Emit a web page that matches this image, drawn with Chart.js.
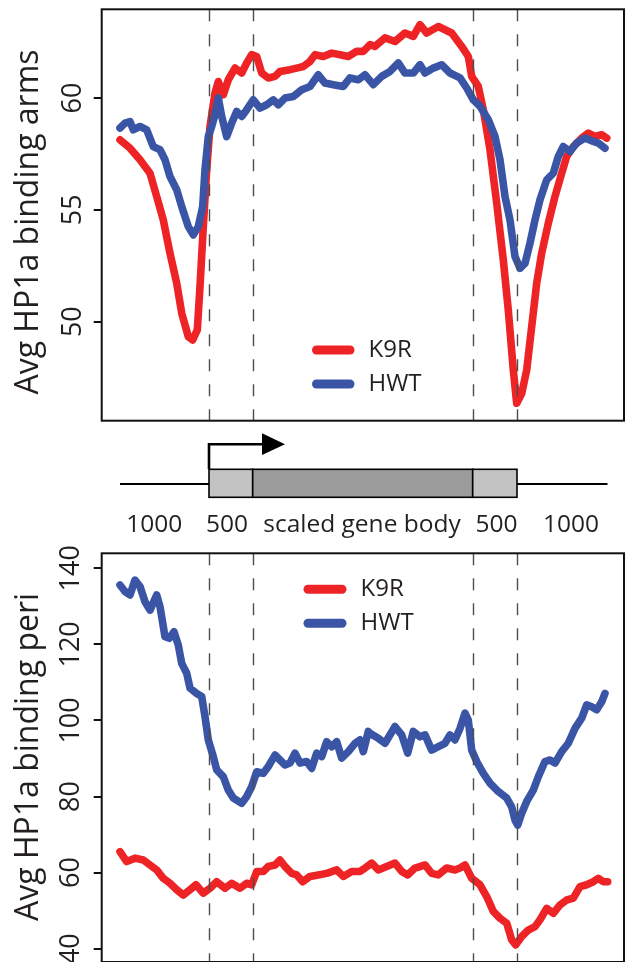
<!DOCTYPE html>
<html><head><meta charset="utf-8">
<script src="https://cdn.jsdelivr.net/npm/chart.js@4.4.1/dist/chart.umd.min.js"></script>
<style>
html,body{margin:0;padding:0;background:#fff;}
#wrap{position:relative;width:625px;height:962px;overflow:hidden;background:#fff;}
canvas{position:absolute;left:0;}
#c1{top:0;} #c2{top:540px;}
</style></head><body>
<div id="wrap">
<canvas id="c1" width="625" height="540"></canvas>
<canvas id="c2" width="625" height="422"></canvas>
</div>
<script>
// ---------- DATA ----------
const seriesNames = ['K9R', 'HWT'];
// profile position in bins (upstream 1000 | 500 | scaled gene body | 500 | 1000 downstream)
const regionBounds = [0, 89, 132.7, 352.7, 397, 487.5];
const regionLabels = ['1000', '500', 'scaled gene body', '500', '1000'];

const armsTicks = [50, 55, 60];
const periTicks = [40, 60, 80, 100, 120, 140];

const armsK9R_x = [0,10,20,30,36.7,43.3,50,56.7,61.7,68.3,72.7,77.3,80,83.3,86.7,90,95,98.3,103.3,108.3,115,121.7,126.7,131.7,136.7,141.7,148.3,155,160,170,176.7,183.3,190,195,203.3,211.7,220,228.3,236.7,243.3,250,255,265,275,285,293.3,300,306.7,318.3,331.7,341.7,348.3,351.7,358.3,363.3,370,376.7,383.3,388.3,393.3,396.7,401.7,406.7,411.7,416.7,421.7,428.3,435,441.7,446.7,453.3,461.7,468.3,475,481.7,486.7];
const armsK9R_y = [58.13,57.76,57.24,56.64,55.6,54.55,53.06,51.72,50.38,49.33,49.18,49.63,51.57,54.25,56.79,58.73,60.22,60.74,60.15,60.82,61.34,61.12,61.57,61.94,61.86,61.12,60.9,60.97,61.19,61.27,61.34,61.41,61.64,61.94,61.86,62.01,61.94,61.86,62.09,62.09,62.39,62.31,62.69,62.53,62.91,62.76,63.28,62.91,63.2,62.91,62.31,61.86,60.97,60.52,59.48,57.69,55.3,52.76,50.52,47.84,46.35,46.79,47.84,49.78,51.72,53.06,54.4,55.6,56.64,57.39,57.83,58.21,58.43,58.28,58.36,58.21];

const armsHWT_x = [0,5,10,13.3,20,26.7,33.3,40,45,50,56.7,61.7,68.3,73.3,78.3,82.7,85,88.3,91.7,95,98.3,101.7,106.7,111.7,116.7,121.7,126.7,133.3,140,146.7,153.3,158.3,165,173.3,181.7,190,198.3,205,213.3,223.3,230,238.3,245,253.3,261.7,270,278.3,285,293.3,300,305,313.3,321.7,330,340,346.7,353.3,360,368.3,375,380,385,390,395,400,405,410,415,420,426.7,433.3,438.3,443.3,450,456.7,465,473.3,478.3,485];
const armsHWT_y = [58.66,58.88,58.95,58.58,58.73,58.58,57.83,57.69,57.24,56.49,55.9,55.15,54.25,53.88,54.25,55.15,56.79,58.28,58.73,59.25,60.0,59.18,58.28,58.88,59.4,59.18,59.48,59.92,59.55,59.7,59.92,59.7,60.0,60.07,60.37,60.52,61.04,60.67,60.6,60.52,60.9,60.82,61.04,60.6,60.97,61.19,61.57,61.12,61.12,61.49,61.12,61.34,61.49,61.12,60.9,60.45,59.92,59.63,59.03,58.28,57.24,55.6,54.55,52.91,52.39,52.61,53.51,54.55,55.45,56.34,56.64,57.39,57.83,57.61,57.99,58.21,58.06,57.99,57.76];

const periK9R_x = [0,6.7,15,23.3,30,36.7,43.3,50,56.7,63.3,70,76,83.3,90,96.7,105,111.7,120,126.7,131.7,136.7,143.3,148.3,155,160,165,171.7,176.7,182.7,190,198.3,206.7,216.7,223.3,231.7,240,245,251.7,258.3,266.7,275,281.7,287.7,295,305,311.7,318.3,326.7,335,340,345,351.7,360,366.7,373.3,380,386.7,391.7,395.7,401.7,408.3,415,420,426.7,433.3,440,446.7,453.3,460,466.7,473.3,478.3,483.3,487.7];
const periK9R_y = [65.5,62.9,63.8,63.3,62.0,60.7,58.5,57.2,55.5,54.1,55.5,56.8,54.6,55.9,57.6,55.9,57.2,55.9,57.2,56.8,60.3,60.3,61.6,62.0,63.3,61.6,59.8,59.4,57.6,59.0,59.4,59.8,60.7,59.0,60.3,60.3,61.2,62.5,60.7,61.6,62.5,60.3,59.4,61.2,62.0,59.8,59.4,61.2,60.7,61.2,62.0,58.5,56.8,53.7,49.8,48.0,46.7,42.3,41.0,43.2,44.9,45.8,47.6,50.6,49.3,51.5,52.8,53.3,56.3,56.8,57.6,58.5,57.6,57.6];

const periHWT_x = [0,5,10,15,20,25,30,36.7,40,45,49.3,54,58.3,61.7,66.7,70,76.7,81.7,85,88.3,93.3,96.7,103.3,108.3,113.3,121.7,126.7,131.7,136.7,143.3,148.3,155,160,165,170,175,180,186.7,191.7,196.7,201.7,206.7,211.7,216.7,221.7,228.3,235,240,243.3,248.3,250,258.3,265,275,281.7,287.7,293.3,300,305,311.7,318.3,325,330,335,340,345,348.3,351.7,356.7,363.3,370,378.3,386.7,391.7,395,397.7,401.7,406.7,413.3,418.3,425,430,435,441.7,448.3,455,461.7,466.7,471.7,476.7,481.7,485];
const periHWT_y = [135.6,133.9,133.0,136.9,135.2,131.2,129.0,133.0,129.9,122.0,121.6,123.3,119.8,115.0,112.4,108.5,107.1,106.3,101.0,94.9,90.5,87.0,85.2,81.7,79.6,78.2,80.0,82.6,86.5,86.1,87.9,90.9,89.6,88.3,88.8,91.4,88.8,89.2,87.4,91.4,90.5,94.4,93.1,94.4,90.1,91.8,94.0,94.9,91.8,97.1,96.6,95.3,94.0,98.4,96.2,91.4,97.1,95.7,96.2,92.2,93.1,94.0,96.2,94.9,97.9,101.9,100.1,92.2,89.2,86.1,83.5,81.3,79.6,77.3,73.8,72.5,75.6,78.7,81.7,85.2,89.2,89.6,88.8,91.8,94.0,97.9,100.6,104.1,103.6,102.8,104.9,107.1];

// ---------- STYLE / LAYOUT ----------
const RED = '#ED2326', BLUE = '#3A55A5', INK = '#231F20';
const FONT = '"Open Sans", "Noto Sans", sans-serif';
const X_RANGE = [-18.3, 504];
const ARMS_RANGE = [45.57, 63.97];
const PERI_RANGE = [36.5, 143.94];

function pts(xs, ys){ return xs.map((x,i)=>({x:x, y:ys[i]})); }

function makeDatasets(k9x,k9y,hwx,hwy){
  return [
    {label: seriesNames[0], data: pts(k9x,k9y), borderColor: RED, order: 2},
    {label: seriesNames[1], data: pts(hwx,hwy), borderColor: BLUE, order: 1}
  ].map(d=>Object.assign(d,{borderWidth:7.6, pointRadius:0, tension:0, fill:false,
      borderCapStyle:'round', borderJoinStyle:'round', backgroundColor:d.borderColor}));
}

const framePlugin = {
  id:'frame',
  afterDatasetsDraw(chart, args, o){
    const {ctx, chartArea:a, scales:{x}} = chart;
    ctx.save();
    // dashed region boundaries
    ctx.strokeStyle = '#4d4d4d'; ctx.lineWidth = 1.4; ctx.setLineDash([12,13]);
    regionBounds.slice(1,5).forEach(b=>{
      const px = Math.round(x.getPixelForValue(b))+0.5;
      ctx.beginPath(); ctx.moveTo(px, a.top); ctx.lineTo(px, a.bottom); ctx.stroke();
    });
    ctx.setLineDash([]);
    // box
    ctx.strokeStyle = '#111'; ctx.lineWidth = 2;
    ctx.strokeRect(a.left, a.top, a.right-a.left, a.bottom-a.top);
    // y tick labels (rotated like R)
    const y = chart.scales.y;
    ctx.fillStyle = INK; ctx.font = o.tickFont + ' ' + FONT;
    ctx.textAlign = 'center'; ctx.textBaseline = 'middle';
    y.ticks.forEach(t=>{
      const py = y.getPixelForValue(t.value);
      ctx.save(); ctx.translate(o.tickX, py); ctx.rotate(-Math.PI/2);
      ctx.fillText(String(t.value), 0, 0); ctx.restore();
    });
    // y title
    ctx.font = o.titleFont + ' ' + FONT; ctx.textBaseline = 'alphabetic';
    ctx.save(); ctx.translate(o.titleX, (a.top+a.bottom)/2 + o.titleShift); ctx.rotate(-Math.PI/2);
    ctx.fillText(o.title, 0, 0); ctx.restore();
    // legend
    ctx.lineCap = 'round'; ctx.lineWidth = 9;
    chart.data.datasets.forEach((d,i)=>{
      const ly = o.legY + i*o.legGap;
      ctx.strokeStyle = d.borderColor;
      ctx.beginPath(); ctx.moveTo(o.legX0, ly); ctx.lineTo(o.legX1, ly); ctx.stroke();
      ctx.fillStyle = INK; ctx.font = '24px ' + FONT; ctx.textAlign='left'; ctx.textBaseline='middle';
      ctx.fillText(d.label, o.legTX, ly);
    });
    ctx.restore();
  }
};

const genePlugin = {
  id:'gene',
  afterDraw(chart){
    const {ctx, scales:{x}} = chart;
    const X = v => x.getPixelForValue(v);
    const b = regionBounds;
    const lineY = 484, boxT = 469.3, boxB = 497.3;
    ctx.save();
    ctx.strokeStyle = '#000'; ctx.lineWidth = 2.2;
    ctx.beginPath(); ctx.moveTo(X(b[0]), lineY); ctx.lineTo(X(b[1]), lineY);
    ctx.moveTo(X(b[4]), lineY); ctx.lineTo(X(b[5]), lineY); ctx.stroke();
    const fills = ['#C3C3C3', '#9B9B9B', '#C3C3C3'];
    ctx.lineWidth = 1.6;
    for (let i=1;i<=3;i++){
      ctx.fillStyle = fills[i-1];
      ctx.fillRect(X(b[i]), boxT, X(b[i+1])-X(b[i]), boxB-boxT);
      ctx.strokeRect(X(b[i]), boxT, X(b[i+1])-X(b[i]), boxB-boxT);
    }
    // TSS arrow
    ctx.lineWidth = 2.6; ctx.lineJoin='miter';
    ctx.beginPath(); ctx.moveTo(X(b[1]), boxT); ctx.lineTo(X(b[1]), 444.3); ctx.lineTo(X(143), 444.3); ctx.stroke();
    ctx.fillStyle = '#000';
    ctx.beginPath(); ctx.moveTo(X(142), 433.3); ctx.lineTo(X(165), 444.2); ctx.lineTo(X(142), 455); ctx.closePath(); ctx.fill();
    // region labels
    const labelAt = [34.3, 107, 242, 376.5, 451];
    ctx.fillStyle = INK; ctx.font = '24.5px ' + FONT; ctx.textAlign='center'; ctx.textBaseline='alphabetic';
    regionLabels.forEach((t,i)=>ctx.fillText(t, X(labelAt[i]), 531.5));
    ctx.restore();
  }
};

function makeChart(id, datasets, yRange, ticks, pad, frameOpts, extraPlugins){
  return new Chart(document.getElementById(id), {
    type:'line',
    data:{datasets},
    options:{
      responsive:false, animation:false, devicePixelRatio:1,
      layout:{padding:pad},
      plugins:{legend:{display:false}, tooltip:{enabled:false}, frame:frameOpts},
      scales:{
        x:{type:'linear', min:X_RANGE[0], max:X_RANGE[1], display:false},
        y:{type:'linear', min:yRange[0], max:yRange[1],
           afterBuildTicks: s => { s.ticks = ticks.map(v=>({value:v})); },
           afterFit: s => { s.width = 101.7; },
           ticks:{display:false},
           border:{display:false},
           grid:{drawOnChartArea:false, drawTicks:true, tickLength:8, color:'#111', lineWidth:2}
        }
      }
    },
    plugins:[framePlugin].concat(extraPlugins||[])
  });
}

makeChart('c1', makeDatasets(armsK9R_x, armsK9R_y, armsHWT_x, armsHWT_y), ARMS_RANGE, armsTicks,
  {left:0, top:9.3, right:1, bottom:119.3},
  {title:'Avg HP1a binding arms', titleFont:'32px', titleX:37.5, titleShift:7, tickFont:'27px', tickX:73,
   legX0:316.5, legX1:350, legY:350, legGap:34, legTX:368.5},
  [genePlugin]);

makeChart('c2', makeDatasets(periK9R_x, periK9R_y, periHWT_x, periHWT_y), PERI_RANGE, periTicks,
  {left:0, top:13.3, right:1, bottom:0},
  {title:'Avg HP1a binding peri', titleFont:'32px', titleX:37.5, titleShift:-0.7, tickFont:'27px', tickX:71,
   legX0:308, legX1:342, legY:49.3, legGap:34, legTX:360.6});
</script>
</body></html>
